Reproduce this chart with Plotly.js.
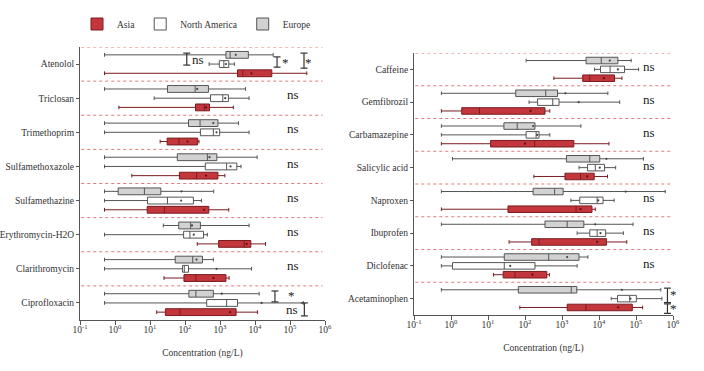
<!DOCTYPE html>
<html><head><meta charset="utf-8">
<script src="https://cdn.plot.ly/plotly-3.0.1.min.js"></script>
<style>html,body{margin:0;padding:0;background:#fff}#chart{width:704px;height:371px}</style>
</head><body><div id="chart"></div><script>
// ---------- categories ----------
const leftDrugs = ['Atenolol','Triclosan','Trimethoprim','Sulfamethoxazole','Sulfamethazine','Erythromycin-H2O','Clarithromycin','Ciprofloxacin'];
const rightDrugs = ['Caffeine','Gemfibrozil','Carbamazepine','Salicylic acid','Naproxen','Ibuprofen','Diclofenac','Acetaminophen'];
const regions = ['Asia','North America','Europe'];

// ---------- values: log10 of concentration (ng/L) ----------
// Left panel
const leftEuropeMin  = [-0.30,-0.30,-0.30,-0.30,-0.30, 1.38,-0.30,-0.30];
const leftEuropeQ1   = [ 3.17, 1.50, 2.10, 1.78, 0.09, 1.82, 1.72, 2.11];
const leftEuropeMed  = [ 3.29, 2.29, 2.43, 2.64, 0.84, 2.16, 2.22, 2.31];
const leftEuropeQ3   = [ 3.81, 2.67, 2.94, 2.91, 1.31, 2.44, 2.50, 2.81];
const leftEuropeMax  = [ 4.52, 3.73, 3.53, 4.06, 2.82, 3.83, 2.81, 4.12];
const leftEuropeMean = [ 3.45, 2.35, 2.81, 2.70, 1.90, 2.20, 2.33, 3.05];

const leftNAMin  = [ 2.69, 1.12,-0.30,-0.30,-0.30,-0.30,-0.30,-0.30];
const leftNAQ1   = [ 2.98, 2.73, 2.44, 2.58, 0.93, 1.96, 1.93, 2.62];
const leftNAMed  = [ 3.11, 3.08, 2.81, 3.19, 1.50, 2.14, 1.98, 3.19];
const leftNAQ3   = [ 3.25, 3.24, 2.99, 3.48, 2.24, 2.53, 2.10, 3.50];
const leftNAMax  = [ 3.41, 3.83, 3.83, 3.60, 2.47, 2.64, 3.90, 5.38];
const leftNAMean = [ 3.17, 3.15, 2.90, 3.30, 1.89, 2.25, 2.90, 4.19];

const leftAsiaMin  = [-0.30, 0.11, 1.29, 0.48,-0.30, 2.35, 1.40, 1.19];
const leftAsiaQ1   = [ 3.50, 2.30, 1.49, 1.84, 0.92, 2.96, 1.97, 1.44];
const leftAsiaMed  = [ 3.65, 2.55, 1.83, 2.33, 1.41, 3.69, 2.31, 1.86];
const leftAsiaQ3   = [ 4.48, 2.70, 2.36, 2.94, 2.68, 3.88, 3.17, 3.46];
const leftAsiaMax  = [ 5.48, 3.38, 2.40, 3.14, 3.25, 4.30, 3.26, 4.07];
const leftAsiaMean = [ 3.90, 2.60, 2.07, 2.60, 2.54, 3.76, 2.81, 3.29];

// Right panel
const rightEuropeMin  = [ 2.03,-0.26,-0.26, 0.04,-0.26,-0.26,-0.26,-0.26];
const rightEuropeQ1   = [ 3.65, 1.75, 1.43, 3.12, 2.22, 2.54, 1.44, 1.82];
const rightEuropeMed  = [ 4.06, 2.56, 1.79, 3.75, 2.80, 3.14, 2.64, 3.25];
const rightEuropeQ3   = [ 4.51, 2.88, 2.27, 4.02, 3.03, 3.59, 3.46, 3.40];
const rightEuropeMax  = [ 4.87, 4.24, 3.51, 5.20, 5.79, 4.92, 3.70, 5.67];
const rightEuropeMean = [ 4.29, 3.09, 2.22, 4.20, 4.72, 3.90, 3.14, 4.62];

const rightNAMin  = [ 3.88, 2.11,-0.26, 3.46, 3.24, 3.41,-0.26, 4.33];
const rightNAQ1   = [ 4.04, 2.34, 2.03, 3.69, 3.48, 3.75, 0.04, 4.50];
const rightNAMed  = [ 4.30, 2.75, 2.30, 3.90, 3.95, 3.95, 1.44, 4.83];
const rightNAQ3   = [ 4.69, 2.92, 2.38, 4.15, 4.11, 4.18, 2.27, 5.01];
const rightNAMax  = [ 5.07, 4.56, 2.67, 4.45, 4.41, 4.66, 3.41, 5.70];
const rightNAMean = [ 4.51, 3.45, 2.33, 4.02, 3.98, 4.04, 1.60, 4.85];

const rightAsiaMin  = [ 2.78,-0.26,-0.26, 2.24,-0.26, 1.57, 1.15, 1.86];
const rightAsiaQ1   = [ 3.56, 0.29, 1.07, 3.08, 1.54, 2.18, 1.41, 3.14];
const rightAsiaMed  = [ 3.75, 0.77, 2.26, 3.50, 3.38, 2.38, 1.73, 3.65];
const rightAsiaQ3   = [ 4.42, 2.54, 3.32, 3.87, 3.81, 4.20, 2.59, 4.90];
const rightAsiaMax  = [ 4.62, 2.67, 4.27, 4.23, 3.90, 4.75, 2.66, 5.18];
const rightAsiaMean = [ 4.13, 2.15, 2.00, 3.68, 3.50, 3.95, 2.20, 4.52];

// significance labels
const leftSig  = ['','ns','ns','ns','ns','ns','ns',''];
const rightSig = ['ns','ns','ns','ns','ns','ns','ns',''];

// axis ticks
const xTickExp = [-1,0,1,2,3,4,5,6];
const xTickText = ['10<sup>-1</sup>','10<sup>0</sup>','10<sup>1</sup>','10<sup>2</sup>','10<sup>3</sup>','10<sup>4</sup>','10<sup>5</sup>','10<sup>6</sup>'];

// ---------- styles ----------
const FONT = 'Liberation Serif, Times New Roman, serif';
const style = {
  'Asia':          {fill:'#c3363c', line:'#7a1c20', mean:'#5a1014', off: 0.27},
  'North America': {fill:'#ffffff', line:'#555555', mean:'#444444', off: 0.0},
  'Europe':        {fill:'#d2d2d2', line:'#555555', mean:'#444444', off:-0.27}
};

const p10 = a => a.map(v => Math.pow(10, v));
const traces = [];

function addSeries(region, xa, ya, n, mn, q1, md, q3, mx, mean, showlegend) {
  const s = style[region];
  const pos = Array.from({length:n}, (_, i) => i + 0.5 + s.off);
  traces.push({
    type:'box', orientation:'h', name:region, legendgroup:region, showlegend:showlegend,
    xaxis:xa, yaxis:ya, y:pos,
    lowerfence:p10(mn), q1:p10(q1), median:p10(md), q3:p10(q3), upperfence:p10(mx),
    width:0.2, whiskerwidth:0.55, boxpoints:false,
    fillcolor:s.fill, line:{color:s.line, width:1}, hoverinfo:'skip'
  });
  traces.push({
    type:'scatter', mode:'markers', xaxis:xa, yaxis:ya, x:p10(mean), y:pos,
    marker:{symbol:'circle', size:2.2, color:s.mean}, showlegend:false, hoverinfo:'skip'
  });
}

const nL = leftDrugs.length, nR = rightDrugs.length;
addSeries('Asia','x','y',nL,leftAsiaMin,leftAsiaQ1,leftAsiaMed,leftAsiaQ3,leftAsiaMax,leftAsiaMean,true);
addSeries('North America','x','y',nL,leftNAMin,leftNAQ1,leftNAMed,leftNAQ3,leftNAMax,leftNAMean,true);
addSeries('Europe','x','y',nL,leftEuropeMin,leftEuropeQ1,leftEuropeMed,leftEuropeQ3,leftEuropeMax,leftEuropeMean,true);
addSeries('Asia','x2','y2',nR,rightAsiaMin,rightAsiaQ1,rightAsiaMed,rightAsiaQ3,rightAsiaMax,rightAsiaMean,false);
addSeries('North America','x2','y2',nR,rightNAMin,rightNAQ1,rightNAMed,rightNAQ3,rightNAMax,rightNAMean,false);
addSeries('Europe','x2','y2',nR,rightEuropeMin,rightEuropeQ1,rightEuropeMed,rightEuropeQ3,rightEuropeMax,rightEuropeMean,false);

// significance brackets: [axes, x exponent, y from, y to]
const brackets = [
  ['x','y',2.05,0.18,0.53],['x','y',4.63,0.29,0.59],['x','y',5.40,0.18,0.62],
  ['x','y',4.57,7.15,7.47],['x','y',5.41,7.50,7.88],
  ['x2','y2',5.85,7.18,7.62],['x2','y2',5.85,7.66,7.95]
];
brackets.forEach(b => traces.push({
  type:'scatter', mode:'lines+markers', xaxis:b[0], yaxis:b[1],
  x:[Math.pow(10,b[2]),Math.pow(10,b[2])], y:[b[3],b[4]],
  line:{color:'#333', width:1.2}, marker:{symbol:'line-ew-open', size:5, color:'#333', line:{width:1.2,color:'#333'}},
  showlegend:false, hoverinfo:'skip', cliponaxis:false
}));

// ---------- annotations ----------
const annotations = [];
const sigFont = {family:FONT, size:13, color:'#222'};
leftSig.forEach((t,i) => { if(t) annotations.push({xref:'x',yref:'y',x:5.09,y:i+0.4,text:t,showarrow:false,font:sigFont}); });
rightSig.forEach((t,i) => { if(t) annotations.push({xref:'x2',yref:'y2',x:5.35,y:i+0.42,text:t,showarrow:false,font:sigFont}); });
[
  ['x','y',2.37,0.36,'ns',0],['x','y',4.86,0.44,'*',0],['x','y',5.54,0.44,'*',0],
  ['x','y',5.05,7.28,'*',0],['x','y',5.07,7.70,'ns',0],
  ['x2','y2',5.90,7.36,'*',4],['x2','y2',5.90,7.80,'*',4]
].forEach(a => annotations.push({xref:a[0],yref:a[1],x:a[2],y:a[3],text:a[4],xshift:a[5],showarrow:false,font:sigFont}));

// separators
const shapes = [];
for (let i = 0; i < nL; i++) shapes.push({type:'line',xref:'x domain',yref:'y',x0:0.005,x1:0.99,y0:i,y1:i,line:{color:'#e07a7a',width:1,dash:'dot'}});
for (let i = 0; i < nR; i++) shapes.push({type:'line',xref:'x2 domain',yref:'y2',x0:0.005,x1:0.99,y0:i,y1:i,line:{color:'#e07a7a',width:1,dash:'dot'}});

const W = 704, H = 371;
const tickFont = {family:FONT, size:9.5, color:'#333'};
function xAxis(domain, anchor) {
  return {domain:domain, anchor:anchor, type:'log', range:[-1,6],
    tickmode:'array', tickvals:p10(xTickExp), ticktext:xTickText,
    ticks:'outside', ticklen:4, tickwidth:1, tickcolor:'#555',
    showline:true, linecolor:'#555', linewidth:1, showgrid:false, zeroline:false,
    tickfont:tickFont, automargin:false, ticklabelstandoff:-3,
    title:{text:'Concentration (ng/L)', font:{family:FONT, size:9.5, color:'#333'}, standoff:14}};
}
function yAxis(domain, anchor, labels) {
  return {domain:domain, anchor:anchor, range:[labels.length,0],
    tickmode:'array', tickvals:labels.map((_,i)=>i+0.5), ticktext:labels,
    ticks:'outside', ticklen:3, tickwidth:1, tickcolor:'#555',
    showline:true, linecolor:'#555', linewidth:1, showgrid:false, zeroline:false,
    tickfont:tickFont, automargin:false};
}

const layout = {
  width:W, height:H, margin:{l:0,r:0,t:0,b:0},
  paper_bgcolor:'#fff', plot_bgcolor:'#fff',
  boxmode:'overlay', showlegend:true,
  legend:{orientation:'h', x:77/W, xanchor:'left', y:1-24/H, yanchor:'middle',
    font:{family:FONT, size:9.5, color:'#333'}, itemwidth:30, traceorder:'normal', bgcolor:'rgba(0,0,0,0)'},
  xaxis: xAxis([80/W, 325/W], 'y'),
  yaxis: yAxis([(H-320)/H, (H-47)/H], 'x', leftDrugs),
  xaxis2: xAxis([414/W, 673/W], 'y2'),
  yaxis2: yAxis([(H-315)/H, (H-53)/H], 'x2', rightDrugs),
  shapes:shapes, annotations:annotations
};

Plotly.newPlot('chart', traces, layout, {staticPlot:true, displayModeBar:false});
</script></body></html>
